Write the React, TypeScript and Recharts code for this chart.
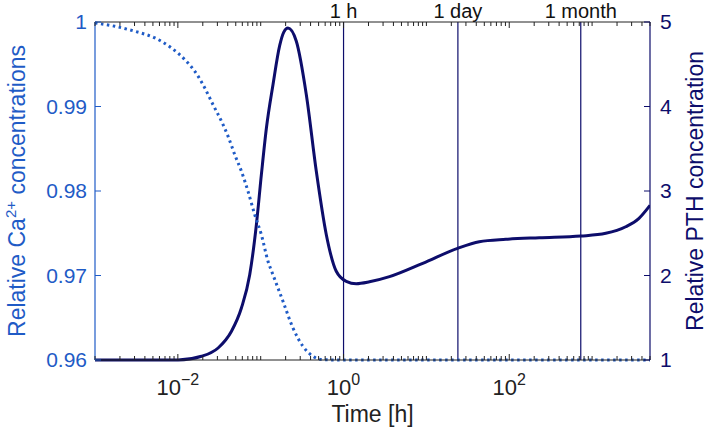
import React from 'react';
import { LineChart, Line, XAxis, YAxis, ReferenceLine } from 'recharts';

const BLUE = '#1f5bc6';
const NAVY = '#0d0d6b';
const FONT = '"Liberation Sans", Arial, sans-serif';
const PLOT_H = 338;

// time in hours (log axis)
const caTime = [0.001, 0.00174, 0.00303, 0.00529, 0.00839, 0.01215, 0.01602, 0.02115, 0.0266, 0.03363, 0.04038, 0.04862, 0.05852, 0.07031, 0.08469, 0.1019, 0.1225, 0.1407, 0.1857, 0.2451, 0.3235, 0.4266, 0.5634, 1, 5000];
const caValue = [0.99988, 0.99949, 0.9989, 0.99811, 0.99692, 0.99554, 0.99417, 0.99219, 0.99021, 0.98825, 0.98647, 0.9843, 0.98233, 0.97996, 0.9772, 0.97483, 0.97168, 0.97009, 0.96695, 0.96379, 0.96162, 0.96044, 0.96004, 0.96, 0.96];

const pthTime = [0.001, 0.0046, 0.01008, 0.0193, 0.0306, 0.0444, 0.0585, 0.0737, 0.0887, 0.1019, 0.1172, 0.1407, 0.1694, 0.19, 0.2134, 0.2692, 0.3554, 0.469, 0.6194, 0.8167, 1.078, 1.422, 2.057, 3.584, 9.02, 23.8, 43.5, 91.2, 229.8, 731, 1462, 2546, 3683, 5000];
const pthValue = [1.0, 1.0, 1.0, 1.044, 1.142, 1.34, 1.615, 2.009, 2.601, 3.193, 3.745, 4.258, 4.72, 4.88, 4.929, 4.772, 4.14, 3.233, 2.483, 2.05, 1.931, 1.903, 1.925, 1.986, 2.144, 2.322, 2.4, 2.428, 2.447, 2.467, 2.499, 2.577, 2.677, 2.83];

const markerTimes = [1, 24, 730];
const markerLabels = ['1 h', '1 day', '1 month'];

const majorTicks = [0.01, 1, 100];
const majorExp = ['\u22122', '0', '2'];
const caTicks = [0.96, 0.97, 0.98, 0.99, 1];
const pthTicks = [1, 2, 3, 4, 5];

const minorTicks: number[] = [];
for (let d = -3; d <= 3; d++) {
  for (let k = 1; k <= 9; k++) {
    const v = k * Math.pow(10, d);
    if (v <= 5000) minorTicks.push(Number(v.toPrecision(3)));
  }
}

const caData = caTime.map((t, i) => ({ t, v: caValue[i] }));
const pthData = pthTime.map((t, i) => ({ t, v: pthValue[i] }));

const majorIndex = (v: number) => majorTicks.findIndex((m) => Math.abs(m - v) / m < 1e-6);

// bottom axis tick: inward ticks on bottom and top frame, labels for decades
const BottomTick = (props: any) => {
  const { x, y, payload } = props;
  const idx = majorIndex(payload.value);
  const major = idx >= 0;
  const len = major ? 6 : 4;
  return (
    <g>
      <line x1={x} x2={x} y1={y} y2={y - len} stroke="#222" strokeWidth={1} />
      <line x1={x} x2={x} y1={y - PLOT_H} y2={y - PLOT_H + len} stroke="#222" strokeWidth={1} />
      {major && (
        <text x={x} y={y + 35} textAnchor="middle" fill="#222" fontSize={22} fontFamily={FONT}>
          <tspan>10</tspan>
          <tspan dy={-10} fontSize={16}>{majorExp[idx]}</tspan>
        </text>
      )}
    </g>
  );
};

const LeftTick = (props: any) => {
  const { x, y, payload } = props;
  return (
    <g>
      <line x1={x} x2={x + 6} y1={y} y2={y} stroke={BLUE} strokeWidth={1} />
      <text x={x - 8} y={y + 7} textAnchor="end" fill={BLUE} fontSize={21} fontFamily={FONT}>
        {String(payload.value)}
      </text>
    </g>
  );
};

const RightTick = (props: any) => {
  const { x, y, payload } = props;
  return (
    <g>
      <line x1={x} x2={x - 6} y1={y} y2={y} stroke={NAVY} strokeWidth={1} />
      <text x={x + 10} y={y + 7} textAnchor="start" fill={NAVY} fontSize={21} fontFamily={FONT}>
        {String(payload.value)}
      </text>
    </g>
  );
};

export default function App() {
  return (
    <div style={{ position: 'absolute', left: 0, top: 0, width: 709, height: 434, background: '#fff' }}>
      <LineChart width={709} height={434} margin={{ top: 0, right: 0, bottom: 44, left: 0 }}>
        <XAxis
          dataKey="t"
          type="number"
          scale="log"
          domain={[0.001, 5000]}
          allowDataOverflow
          ticks={minorTicks}
          interval={0}
          tickSize={0}
          tickMargin={0}
          tick={<BottomTick />}
          axisLine={{ stroke: '#222', strokeWidth: 1 }}
          tickLine={false}
          height={30}
          label={{
            content: (p: any) => (
              <text
                x={p.viewBox.x + p.viewBox.width / 2}
                y={422}
                textAnchor="middle"
                fill="#222"
                fontSize={23}
                fontFamily={FONT}
              >
                Time [h]
              </text>
            ),
          }}
        />
        <XAxis
          xAxisId="top"
          orientation="top"
          dataKey="t"
          type="number"
          scale="log"
          domain={[0.001, 5000]}
          allowDataOverflow
          tick={false}
          axisLine={{ stroke: '#222', strokeWidth: 1 }}
          tickLine={false}
          height={22}
        />
        <YAxis
          yAxisId="ca"
          orientation="left"
          type="number"
          domain={[0.96, 1]}
          ticks={caTicks}
          interval={0}
          width={95}
          tickSize={0}
          tickMargin={0}
          tick={<LeftTick />}
          tickLine={false}
          axisLine={{ stroke: BLUE, strokeWidth: 1.2 }}
          label={{
            content: () => (
              <text transform="rotate(-90)" x={-191} y={25} textAnchor="middle" fill={BLUE} fontSize={23} fontFamily={FONT}>
                <tspan>Relative Ca</tspan>
                <tspan dy={-9} fontSize={15}>2+</tspan>
                <tspan dy={9}> concentrations</tspan>
              </text>
            ),
          }}
        />
        <YAxis
          yAxisId="pth"
          orientation="right"
          type="number"
          domain={[1, 5]}
          ticks={pthTicks}
          interval={0}
          width={59}
          tickSize={0}
          tickMargin={0}
          tick={<RightTick />}
          tickLine={false}
          axisLine={{ stroke: NAVY, strokeWidth: 1.2 }}
          label={{
            content: () => (
              <text transform="rotate(-90)" x={-191} y={703} textAnchor="middle" fill={NAVY} fontSize={23} fontFamily={FONT}>
                Relative PTH concentration
              </text>
            ),
          }}
        />
        {markerTimes.map((t, i) => (
          <ReferenceLine
            key={t}
            x={t}
            yAxisId="pth"
            stroke={NAVY}
            strokeWidth={1.2}
            label={{ value: markerLabels[i], position: 'top', fill: '#111', fontSize: 20, fontFamily: FONT, offset: 4 }}
          />
        ))}
        <Line
          yAxisId="pth"
          data={pthData}
          dataKey="v"
          type="monotone"
          stroke={NAVY}
          strokeWidth={3}
          dot={false}
          isAnimationActive={false}
        />
        <Line
          yAxisId="ca"
          data={caData}
          dataKey="v"
          type="monotone"
          stroke={BLUE}
          strokeWidth={3}
          strokeDasharray="2.5 3.5"
          dot={false}
          isAnimationActive={false}
        />
      </LineChart>
    </div>
  );
}
